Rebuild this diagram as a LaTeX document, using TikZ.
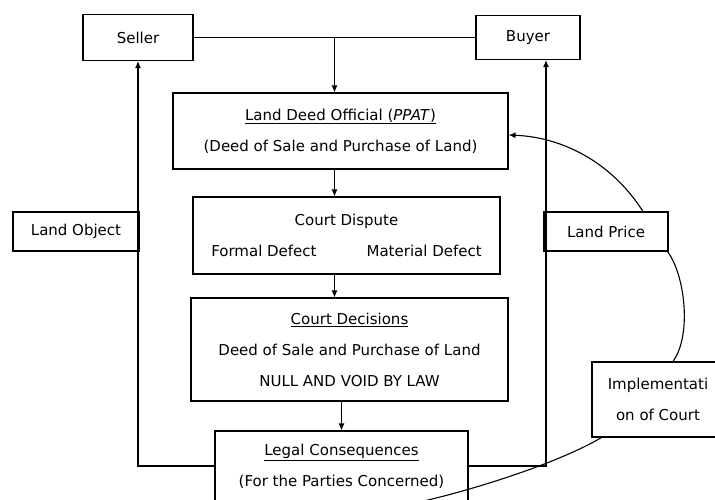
\documentclass[tikz,border=0pt]{standalone}
\usepackage{fontspec}
\setmainfont{DejaVu Sans}
\usepackage{tikz}
\usetikzlibrary{arrows.meta,calc,positioning}

\begin{document}
\begin{tikzpicture}[x=1pt,y=-1pt,line width=1.1pt,
  box/.style={draw,rectangle,inner sep=0pt,align=center,font=\fontsize{15}{31}\selectfont},
  arr/.style={-{Latex[length=7pt,width=6pt]}}]
\useasboundingbox (0,0) rectangle (715,499);
\clip (0,0) rectangle (715,499);
\node[box,minimum width=110pt,minimum height=46pt] (seller) at (138,37.5) {Seller};
\node[box,minimum width=104pt,minimum height=44pt] (buyer) at (528,37.5) {Buyer};
\node[box,minimum width=335pt,minimum height=76pt] (ldo) at (340.5,131) {\underline{Land Deed Official (\textit{PPAT})}\\(Deed of Sale and Purchase of Land)};
\node[box,minimum width=307pt,minimum height=77pt] (dispute) at (346.5,235.5) {Court Dispute\\Formal Defect\hspace{50pt}Material Defect};
\node[box,minimum width=317pt,minimum height=103pt] (decisions) at (349.5,349.5) {\underline{Court Decisions}\\Deed of Sale and Purchase of Land\\NULL AND VOID BY LAW};
\node[box,minimum width=253pt,minimum height=70pt] (legal) at (341.5,466) {\underline{Legal Consequences}\\(For the Parties Concerned)};
\node[box,minimum width=126pt,minimum height=39pt] (landobject) at (76,231.5) {Land Object};
\node[box,minimum width=124pt,minimum height=39pt] (landprice) at (606,231.5) {Land Price};
\node[box,minimum width=132pt,minimum height=75pt] (implement) at (658,399.5) {Implementati\\on of Court};
\coordinate (M) at ($(seller.east)!0.5!(buyer.west)$);
\draw (seller) -- (buyer);
\draw[arr] (M) -- (M |- ldo.north);
\draw[arr] (M |- ldo.south) -- (M |- dispute.north);
\draw[arr] (M |- dispute.south) -- (M |- decisions.north);
\draw[arr] (legal.north |- decisions.south) -- (legal.north);
\draw[arr] (legal.west) -| (seller.south);
\draw[arr] (legal.east) -| ([xshift=18pt]buyer.south);
\draw[arr] ([xshift=37pt]landprice.north) .. controls (610,160) and (560,137) .. ([yshift=-4pt]ldo.east);
\draw ([xshift=-1pt]landprice.south east) .. controls (685,275) and (692,335) .. ([xshift=15pt]implement.north);
\draw ([xshift=10pt]implement.south west) .. controls (560,462) and (480,488) .. ([xshift=80pt]legal.south);
\end{tikzpicture}
\end{document}
